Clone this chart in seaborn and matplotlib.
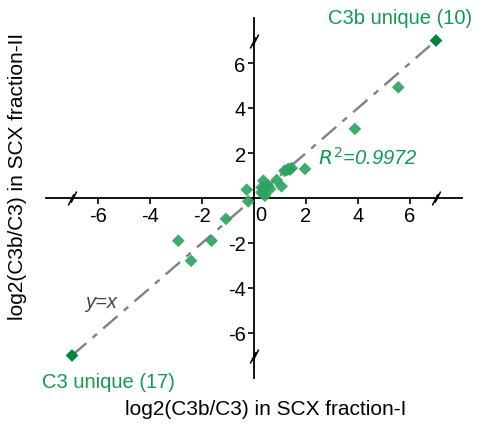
import numpy as np
import pandas as pd
import matplotlib.pyplot as plt
import seaborn as sns
from matplotlib.path import Path

sns.set_style("white")
plt.rcParams['font.family'] = ['Liberation Sans', 'DejaVu Sans']
plt.rcParams['axes.unicode_minus'] = False
plt.rcParams['text.color'] = 'k'

# log2 ratios, shared peptides
frac1 = [5.55, 3.88, 1.96, 1.45, 1.38, 1.32, 1.26, 1.17, 1.06, 0.87, 0.62, 0.55, 0.42,
         0.42, 0.36, 0.36, 0.29, 0.29, -0.22, -0.28, -1.08, -1.63, -2.42, -2.91]
frac2 = [4.92, 3.07, 1.29, 1.33, 1.26, 1.29, 1.24, 1.21, 0.52, 0.80, 0.40, 0.55, 0.47,
         0.10, 0.77, 0.18, 0.47, 0.25, -0.15, 0.37, -0.93, -1.90, -2.79, -1.90]
# unique peptides placed at the axis breaks
uniq_x = [7, -7]
uniq_y = [7, -7]

green = '#119a4f'
pts = pd.DataFrame({'f1': frac1, 'f2': frac2})
uni = pd.DataFrame({'f1': uniq_x, 'f2': uniq_y})

fig = plt.figure(figsize=(4.85, 4.31), dpi=100)
ax = fig.add_axes([0, 0, 1, 1])
ax.set_xlim(-254 / 26, 231 / 26)
ax.set_ylim(-232 / 22.5, 199 / 22.5)

# y = x line
ax.plot([-7, 7], [-7, 7], color='#808080', lw=1.7, ls=(0, (8, 3.5, 2.5, 3.5)), zorder=1)

sns.scatterplot(data=pts, x='f1', y='f2', marker='D', s=42, color='#2ca25f',
                alpha=0.9, edgecolor='none', ax=ax, zorder=3)
sns.scatterplot(data=uni, x='f1', y='f2', marker='D', s=42, color='#00843f',
                edgecolor='none', ax=ax, zorder=3)

# axes through the origin
for s in ['top', 'right']:
    ax.spines[s].set_visible(False)
ax.spines['left'].set_position('zero')
ax.spines['bottom'].set_position('zero')
ax.spines['left'].set_bounds(-8, 8)
ax.spines['bottom'].set_bounds(-8, 8)
for s in ['left', 'bottom']:
    ax.spines[s].set_color('k')
    ax.spines[s].set_linewidth(1.3)

ax.set_xticks([-6, -4, -2, 0, 2, 4, 6])
ax.set_xticklabels([str(t) if t != 0 else '' for t in [-6, -4, -2, 0, 2, 4, 6]])
ax.set_yticks([-6, -4, -2, 2, 4, 6])
ax.set_yticklabels([str(t) for t in [-6, -4, -2, 2, 4, 6]])
ax.tick_params(axis='both', direction='out', length=4, width=1.2, labelsize=14.5, colors='k', pad=2)
ax.tick_params(bottom=True, left=True)
ax.text(0.27, -0.3, '0', ha='center', va='top', fontsize=14.5)
ax.set_xlabel('')
ax.set_ylabel('')

# axis break marks
brk = Path([(-0.6, -1.0), (0.2, 0.6), (-0.2, -0.6), (0.6, 1.0)],
           [Path.MOVETO, Path.LINETO, Path.MOVETO, Path.LINETO])
ax.plot([-7, 7, 0, 0], [0, 0, 7, -7], ls='none', marker=brk, ms=10,
        mec='k', mew=1.1, zorder=4)

W, H = 485, 431
fig.text(266 / W, 1 - 410 / H, 'log2(C3b/C3) in SCX fraction-I', ha='center', va='center', fontsize=15)
fig.text(18 / W, 1 - 176 / H, 'log2(C3b/C3) in SCX fraction-II', ha='center', va='center',
         rotation=90, fontsize=15)
fig.text(472 / W, 1 - 18 / H, 'C3b unique (10)', ha='right', va='center', fontsize=14.5, color=green)
fig.text(42 / W, 1 - 383 / H, 'C3 unique (17)', ha='left', va='center', fontsize=14.5, color=green)
fig.text(318 / W, 1 - 158 / H, '$R^2$=0.9972', ha='left', va='center', fontsize=14.5,
         color=green, style='italic')
fig.text(85 / W, 1 - 302 / H, 'y=x', ha='left', va='center', fontsize=14.5,
         color='#444444', style='italic')

plt.savefig('out.png', dpi=100)
